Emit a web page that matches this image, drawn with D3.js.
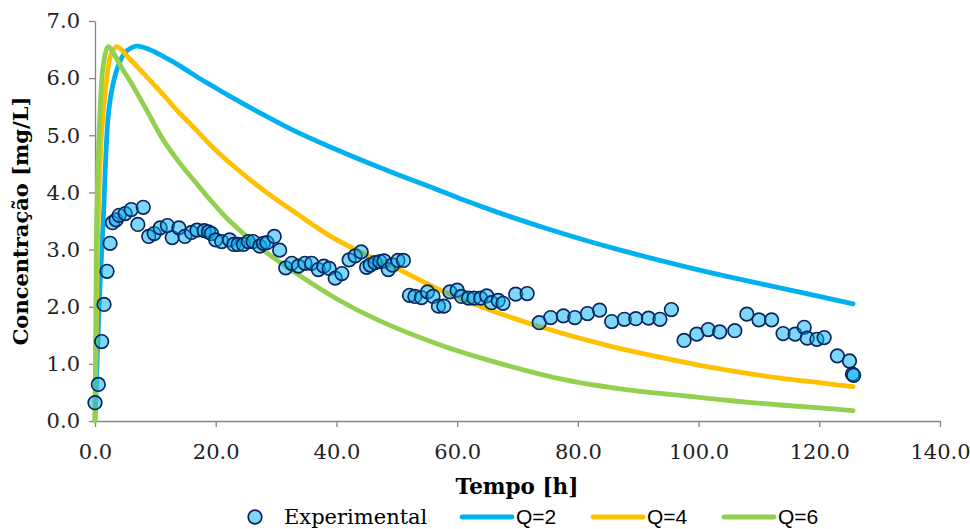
<!DOCTYPE html>
<html>
<head>
<meta charset="utf-8">
<script src="https://cdn.jsdelivr.net/npm/d3@7"></script>
<style>
  body { margin: 0; background: #fff; }
  .axis path, .axis line { stroke: #868686; stroke-width: 1.3; }
  .axis text { font-family: "DejaVu Serif", serif; font-size: 21px; fill: #222; }
</style>
</head>
<body>
<div id="chart"></div>
<script>
// experimental data (time in h, concentration in mg/L)
const expTime = [0, 0.55, 1.1, 1.5, 2.0, 2.5, 2.9, 3.5, 4.0, 5.0, 6.0, 7.1, 8.0, 8.9, 9.8, 10.8, 12.0, 12.8, 13.9, 14.9,
  16.0, 16.9, 18.1, 18.8, 19.3, 20.0, 21.0, 22.3, 23.0, 23.7, 24.6, 25.4, 26.2, 27.3, 27.9, 28.5, 29.7, 30.6, 31.6, 32.6,
  33.7, 34.8, 35.9, 37.0, 37.9, 38.8, 39.8, 40.9, 42.1, 43.1, 44.1, 45.0, 45.6, 46.4, 47.2, 47.9, 48.6, 49.3, 50.2, 51.1,
  52.1, 53.0, 54.1, 55.1, 56.0, 56.9, 57.8, 58.8, 60.0, 60.7, 61.9, 62.8, 63.9, 64.9, 65.7, 66.8, 67.6, 69.7, 71.6, 73.6,
  75.5, 77.6, 79.5, 81.6, 83.6, 85.6, 87.7, 89.6, 91.7, 93.6, 95.5, 97.6, 99.7, 101.6, 103.5, 106.0, 108.0, 110.0, 112.1, 114.0,
  116.0, 117.5, 118.0, 119.6, 120.8, 123.0, 125.0, 125.5, 125.7];
const expConc = [0.32, 0.64, 1.39, 2.04, 2.62, 3.11, 3.47, 3.52, 3.60, 3.63, 3.70, 3.44, 3.74, 3.23, 3.28, 3.38, 3.42, 3.21, 3.38, 3.23,
  3.30, 3.34, 3.33, 3.31, 3.28, 3.17, 3.14, 3.17, 3.09, 3.09, 3.09, 3.14, 3.14, 3.06, 3.11, 3.12, 3.23, 2.99, 2.68, 2.76,
  2.71, 2.76, 2.76, 2.65, 2.71, 2.67, 2.50, 2.58, 2.82, 2.89, 2.96, 2.69, 2.73, 2.77, 2.79, 2.80, 2.65, 2.73, 2.81, 2.81,
  2.20, 2.18, 2.16, 2.26, 2.18, 2.01, 2.01, 2.26, 2.29, 2.18, 2.15, 2.15, 2.15, 2.19, 2.07, 2.11, 2.06, 2.22, 2.23, 1.72,
  1.81, 1.84, 1.81, 1.88, 1.94, 1.74, 1.78, 1.79, 1.80, 1.78, 1.95, 1.41, 1.52, 1.60, 1.56, 1.58, 1.87, 1.77, 1.77, 1.53,
  1.52, 1.64, 1.45, 1.43, 1.46, 1.14, 1.05, 0.82, 0.80];

// model curves
const q2Time = [0, 0.4, 0.8, 1.4, 2.2, 3.0, 3.9, 5.0, 6.9, 9.0, 11.3, 14, 16.8, 19.5, 22.4, 27.9, 33.4, 38.9, 44.5, 50, 55.5, 61, 66.5, 74.8, 86, 98.6, 106, 113.5, 120, 125.6];
const q2Conc = [0, 1.2, 2.3, 3.6, 5.35, 5.9, 6.23, 6.45, 6.56, 6.5, 6.38, 6.22, 6.03, 5.86, 5.68, 5.36, 5.06, 4.8, 4.55, 4.32, 4.1, 3.87, 3.66, 3.37, 3.02, 2.68, 2.50, 2.33, 2.18, 2.05];

const q4Time = [0, 0.3, 0.55, 1.1, 1.9, 2.6, 3.6, 5.8, 8.5, 11.3, 14, 16.8, 19.5, 22.4, 27.9, 33.4, 38.9, 44.5, 50, 57.2, 65, 73.7, 85, 98.6, 106, 113.5, 120, 125.6];
const q4Conc = [0, 2.2, 3.6, 5.05, 5.95, 6.4, 6.55, 6.33, 6.03, 5.71, 5.39, 5.09, 4.79, 4.51, 4.04, 3.63, 3.24, 2.93, 2.67, 2.29, 1.96, 1.65, 1.32, 1.01, 0.87, 0.75, 0.67, 0.60];

const q6Time = [0, 0.15, 0.3, 0.8, 1.4, 2.2, 3.0, 4.2, 5.8, 8.5, 11.3, 14, 16.8, 19.5, 22.4, 27.9, 33.4, 40, 47, 57.2, 65, 77.9, 88, 98.6, 106, 113.5, 120, 125.6];
const q6Conc = [0, 2.0, 3.6, 5.35, 6.25, 6.55, 6.45, 6.22, 5.95, 5.45, 4.92, 4.52, 4.16, 3.82, 3.49, 2.99, 2.58, 2.14, 1.76, 1.33, 1.07, 0.72, 0.55, 0.43, 0.35, 0.28, 0.23, 0.18];

const xTicks = [0, 20, 40, 60, 80, 100, 120, 140];
const yTicks = [0, 1, 2, 3, 4, 5, 6, 7];

const models = [
  { name: "Q=2", time: q2Time, conc: q2Conc, color: "#00B0F0" },
  { name: "Q=4", time: q4Time, conc: q4Conc, color: "#FFC000" },
  { name: "Q=6", time: q6Time, conc: q6Conc, color: "#92D050" }
];

const width = 970, height = 529;
const margin = { top: 21, right: 30, bottom: 108, left: 95 };

const svg = d3.select("#chart").append("svg")
    .attr("width", width)
    .attr("height", height);

const x = d3.scaleLinear().domain([0, 140]).range([margin.left, width - margin.right]);
const y = d3.scaleLinear().domain([0, 7]).range([height - margin.bottom, margin.top]);

svg.append("g")
    .attr("class", "axis")
    .attr("transform", "translate(0," + y(0) + ")")
    .call(d3.axisBottom(x).tickValues(xTicks).tickFormat(d3.format(".1f")).tickSize(6).tickSizeOuter(0).tickPadding(17));

svg.append("g")
    .attr("class", "axis")
    .attr("transform", "translate(" + x(0) + ",0)")
    .call(d3.axisLeft(y).tickValues(yTicks).tickFormat(d3.format(".1f")).tickSize(6).tickSizeOuter(0).tickPadding(9));

// model lines
const line = d3.line()
    .x(d => x(d[0]))
    .y(d => y(d[1]))
    .curve(d3.curveCatmullRom.alpha(0.5));

models.forEach(function (m) {
  svg.append("path")
      .datum(m.time.map((t, i) => [t, m.conc[i]]))
      .attr("fill", "none")
      .attr("stroke", m.color)
      .attr("stroke-width", 4.8)
      .attr("stroke-linecap", "round")
      .attr("stroke-linejoin", "round")
      .attr("d", line);
});

// experimental points
svg.append("g").selectAll("circle")
    .data(expTime.map((t, i) => [t, expConc[i]]))
    .enter().append("circle")
    .attr("cx", d => x(d[0]))
    .attr("cy", d => y(d[1]))
    .attr("r", 6.8)
    .attr("fill", "rgba(0,176,240,0.5)")
    .attr("stroke", "#0A2660")
    .attr("stroke-width", 1.7);

// axis titles
svg.append("text")
    .attr("transform", "translate(28," + ((margin.top + y(0)) / 2) + ") rotate(-90)")
    .attr("text-anchor", "middle")
    .style("font-family", "'DejaVu Serif', serif")
    .style("font-weight", "bold")
    .style("font-size", "21px")
    .text("Concentração [mg/L]");

svg.append("text")
    .attr("x", 517)
    .attr("y", 494)
    .attr("text-anchor", "middle")
    .style("font-family", "'DejaVu Serif', serif")
    .style("font-weight", "bold")
    .style("font-size", "21.5px")
    .text("Tempo [h]");

// legend
const ly = 517;
const legend = svg.append("g");
legend.append("circle")
    .attr("cx", 255).attr("cy", ly).attr("r", 6.8)
    .attr("fill", "rgba(0,176,240,0.5)")
    .attr("stroke", "#0A2660")
    .attr("stroke-width", 1.7);
legend.append("text")
    .attr("x", 284).attr("y", ly + 7)
    .style("font-family", "'DejaVu Serif', serif")
    .style("font-size", "21px")
    .text("Experimental");

const legendX = [462, 593, 724];
models.forEach(function (m, i) {
  legend.append("line")
      .attr("x1", legendX[i]).attr("x2", legendX[i] + 50)
      .attr("y1", ly).attr("y2", ly)
      .attr("stroke", m.color)
      .attr("stroke-width", 4.8)
      .attr("stroke-linecap", "round");
  legend.append("text")
      .attr("x", legendX[i] + 54).attr("y", ly + 7)
      .style("font-family", "'Liberation Sans', sans-serif")
      .style("font-size", "21px")
      .text(m.name);
});
</script>
</body>
</html>
